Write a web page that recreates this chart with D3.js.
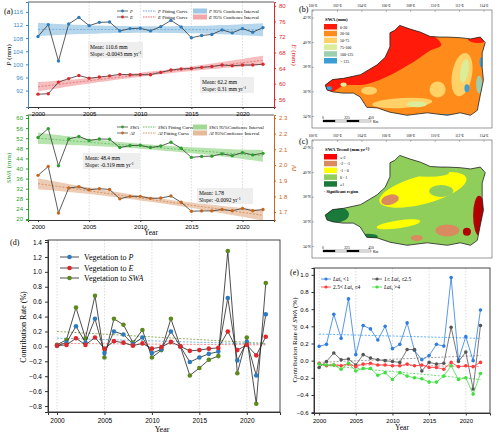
<!DOCTYPE html>
<html><head><meta charset="utf-8">
<script src="https://cdn.jsdelivr.net/npm/d3@7"></script>
<style>body{margin:0;background:#fff}svg{font-family:"Liberation Serif","DejaVu Serif",serif}</style>
</head><body><svg id="c" width="500" height="438"></svg>
<script>
const years=d3.range(2000,2023);
const P=[108.5,112.1,101,112.3,114.3,111.8,112.8,112.9,110.2,110.9,111,110.2,111.5,113.4,111.4,108.1,108.8,109.1,110.5,109.6,110.9,109.8,111.2];
const E=[57.3,57.4,60.4,61.3,62.1,61.4,61.7,62,62.4,62.3,62.3,62.3,62.9,63.5,63.8,63.9,64.2,64.4,64.8,64.6,64.8,64.8,65];
const SWA=[52.3,55.8,41.1,51.7,52.7,51.1,51.7,51.6,48.3,49.1,49.2,48.3,48.9,50.4,48,44.4,44.8,44.9,45.8,45.1,46.3,45.4,46];
const AI=[1.934,1.990,1.694,1.853,1.861,1.842,1.849,1.844,1.784,1.800,1.800,1.787,1.789,1.802,1.762,1.705,1.707,1.707,1.716,1.708,1.723,1.708,1.716];
const P_fit=[110.65,110.55], P_band=[2.0,1.0];
const E_fit=[59.2,66.0], E_band=[1.2,0.5];
const SWA_fit=[52.0,45.0], SWA_band=[2.3,1.0];
const AI_fit=[1.881,1.679], AI_band=[0.035,0.015];
const vegP=[0.01,0.05,0.27,0.05,0.37,-0.09,0.2,0.16,0.03,0.12,-0.09,-0.04,0.2,0,-0.21,-0.15,-0.1,-0.07,0.65,-0.19,0.06,-0.39,0.43];
const vegE=[0.01,0.02,0.11,0.02,0.12,-0.03,0.07,0.05,0.01,0.04,-0.03,-0.01,0.06,0,-0.06,-0.05,-0.03,-0.02,0.2,-0.05,0.02,-0.12,0.13];
const vegS=[0.02,0.09,0.52,0.11,0.68,-0.15,0.37,0.29,0.05,0.22,-0.15,-0.05,0.37,0,-0.39,-0.29,-0.18,-0.13,1.28,-0.36,0.12,-0.77,0.85];
const d_trend={P:[0.11,0.03],E:[0.04,0.02],S:[0.2,0.04]};
const lai1=[0.167,0.19,0.54,0.26,0.72,0.07,0.41,0.37,0.24,0.40,0.14,0.19,0.44,0.12,0.01,0.06,0.19,0.17,0.97,0.01,0.28,0.0,0.59];
const lai2=[-0.08,-0.01,0.09,0.01,0.02,-0.05,0.07,0.03,0.01,0.0,-0.01,-0.02,0.13,0.13,-0.12,-0.02,-0.04,-0.03,0.39,-0.01,0.10,-0.33,0.41];
const lai3=[-0.03,-0.06,-0.05,-0.06,-0.04,-0.07,-0.04,-0.03,-0.05,-0.05,-0.06,-0.06,-0.04,-0.06,-0.05,-0.08,-0.08,-0.1,-0.02,-0.07,-0.06,-0.07,-0.02];
const lai4=[-0.04,-0.05,-0.05,-0.1,-0.03,-0.12,-0.09,-0.09,-0.17,-0.14,-0.22,-0.14,-0.18,-0.2,-0.21,-0.25,-0.25,-0.18,-0.06,-0.22,-0.2,-0.39,-0.15];
const e_trend={a:[0.31,0.26],b:[-0.02,0.06],c:[-0.04,-0.07],d:[-0.05,-0.22]};
const outline=[[101.0,36.55],[101.6,37.0],[102.5,37.1],[103.9,37.4],[105.25,38.2],[105.9,38.8],[106.3,39.65],[106.3,40.8],[106.7,41.0],[107.1,41.4],[107.95,41.1],[108.8,40.85],[109.6,40.5],[110.4,40.45],[111.0,40.45],[112.05,40.4],[112.9,40.3],[113.7,40.45],[114.1,40.0],[113.85,39.15],[113.85,38.0],[113.95,36.95],[113.7,35.75],[113.45,34.5],[112.9,34.1],[112.05,34.3],[111.0,34.1],[109.35,34.3],[107.7,34.1],[106.3,34.35],[105.25,34.7],[104.4,34.75],[103.85,35.6],[103.3,35.9],[102.45,35.9],[101.65,36.0],[101.15,36.15]];
const swaCats=["0-20","20-50","50-75","75-100","100-125","> 125"];
const swaCols=["#ff1a0a","#ff8c1a","#ffd166","#d9ed9a","#9ccfb0","#3b9fd6"];
const trCats=["≤-2","-2 - -1","-1 - 0","0 - 1","≥1"];
const trCols=["#ff0000","#d98b5f","#ffff00","#8fce5a","#1a7a3a"];
const lonTicks=[100,102,104,106,108,110,112,114], latTicks=[42,40,38,36,34];

const svg=d3.select("#c");
function band(g,x,y,fit,bw,col){
  const n=years.length-1;
  const c=(i)=>fit[0]+(fit[1]-fit[0])*i/n;
  const w=(i)=>{const t=Math.abs(i/n-0.5)*2;return bw[1]+(bw[0]-bw[1])*t*t;};
  g.append("path").datum(years.map((v,i)=>i)).attr("fill",col).attr("opacity",0.75)
   .attr("d",d3.area().x(i=>x(years[i])).y0(i=>y(c(i)-w(i))).y1(i=>y(c(i)+w(i))).curve(d3.curveMonotoneX));
}
function fitLine(g,x,y,fit,col){
  g.append("line").attr("x1",x(2000)).attr("x2",x(2022)).attr("y1",y(fit[0])).attr("y2",y(fit[1]))
   .attr("stroke",col).attr("stroke-width",0.8).attr("stroke-dasharray","2,1.5");
}
function series(g,x,y,vals,col,r,lineCol){
  g.append("path").datum(vals).attr("fill","none").attr("stroke",lineCol||"#333").attr("stroke-width",0.8)
   .attr("d",d3.line().x((d,i)=>x(years[i])).y(d=>y(d)));
  g.selectAll(null).data(vals).enter().append("circle").attr("cx",(d,i)=>x(years[i])).attr("cy",d=>y(d)).attr("r",r).attr("fill",col);
}
function styleAxis(a,col,fs){a.selectAll("path,line").attr("stroke",col);a.selectAll("text").attr("fill",col==="#333"?"#000":col).style("font-size",fs+"px");a.select(".domain").attr("stroke-width",1);}
function vgrid(g,x,yr,yrs){g.selectAll(null).data(yrs).enter().append("line").attr("x1",d=>x(d)).attr("x2",d=>x(d)).attr("y1",yr[0]).attr("y2",yr[1]).attr("stroke","#bbb").attr("stroke-width",0.5).attr("stroke-dasharray","1.5,1.5");}
function txt(x,y,s,fs,opt={}){const t=svg.append("text").attr("x",x).attr("y",y).style("font-size",fs+"px").attr("fill",opt.fill||"#000");if(opt.anchor)t.attr("text-anchor",opt.anchor);if(opt.rot)t.attr("transform",`rotate(${opt.rot},${x},${y})`);t.html(s);return t;}

const xa=d3.scaleLinear().domain([1999.02,2023.08]).range([28,274]);
const yP=d3.scaleLinear().domain([87,119]).range([107,2]);
const yE=d3.scaleLinear().domain([54,81]).range([107,2]);
const yS=d3.scaleLinear().domain([19.6,61.2]).range([220,115]);
const yA=d3.scaleLinear().domain([1.649,2.319]).range([220,115]);
const ga=svg.append("g");
vgrid(ga,xa,[2,107],[2005,2010,2015,2020]);vgrid(ga,xa,[115,220],[2005,2010,2015,2020]);
band(ga,xa,yP,P_fit,P_band,"#9ec8e6");band(ga,xa,yE,E_fit,E_band,"#f3a6a8");
fitLine(ga,xa,yP,P_fit,"#6aaad8");fitLine(ga,xa,yE,E_fit,"#e07070");
series(ga,xa,yP,P,"#2b7bbf",1.7);series(ga,xa,yE,E,"#e0262a",1.7);
band(ga,xa,yS,SWA_fit,SWA_band,"#9fd994");band(ga,xa,yA,AI_fit,AI_band,"#e6bb9c");
fitLine(ga,xa,yS,SWA_fit,"#5cbf5c");fitLine(ga,xa,yA,AI_fit,"#d08850");
series(ga,xa,yS,SWA,"#2ca02c",1.7);series(ga,xa,yA,AI,"#c8661c",1.7);
[[107,2],[220,115]].forEach(r=>{ga.append("line").attr("x1",28).attr("x2",274).attr("y1",r[1]).attr("y2",r[1]).attr("stroke","#333").attr("stroke-width",0.8);});
const xt=[2000,2005,2010,2015,2020];
let a;
a=ga.append("g").attr("transform","translate(0,107)").call(d3.axisBottom(xa).tickValues(xt).tickFormat(d3.format("d")).tickSize(2));styleAxis(a,"#333",6);
a=ga.append("g").attr("transform","translate(0,220)").call(d3.axisBottom(xa).tickValues(xt).tickFormat(d3.format("d")).tickSize(2));styleAxis(a,"#333",6);
a=ga.append("g").attr("transform","translate(28,0)").call(d3.axisLeft(yP).tickValues([92,96,100,104,108,112,116]).tickSize(2));styleAxis(a,"#3b8ccc",6);
a=ga.append("g").attr("transform","translate(274,0)").call(d3.axisRight(yE).tickValues([56,60,64,68,72,76,80]).tickSize(2));styleAxis(a,"#e0262a",6);
a=ga.append("g").attr("transform","translate(28,0)").call(d3.axisLeft(yS).tickValues([20,24,28,32,36,40,44,48,52,56,60]).tickSize(2));styleAxis(a,"#2ca02c",6);
a=ga.append("g").attr("transform","translate(274,0)").call(d3.axisRight(yA).tickValues([1.7,1.8,1.9,2.0,2.1,2.2,2.3]).tickFormat(d3.format(".1f")).tickSize(2));styleAxis(a,"#c8661c",6);
txt(4,14,"(a)",8);
txt(11,55,"<tspan font-style='italic'>P</tspan> (mm)",7,{rot:-90,anchor:"middle"});
txt(292,55,"<tspan font-style='italic'>E</tspan> (mm)",7,{rot:90,anchor:"middle",fill:"#e0262a"});
txt(11,168,"<tspan font-style='italic'>SWA</tspan> (mm)",7,{rot:-90,anchor:"middle",fill:"#2ca02c"});
txt(292,168,"<tspan font-style='italic'>AI</tspan>",7,{rot:90,anchor:"middle",fill:"#c8661c"});
txt(151,235,"Year",7.5,{anchor:"middle"});
function statBox(x,y,w,l1,l2){svg.append("rect").attr("x",x).attr("y",y).attr("width",w).attr("height",16).attr("fill","#ececec").attr("opacity",0.9);txt(x+2,y+6.5,l1,5.5);txt(x+2,y+13.5,l2,5.5);}
statBox(88,42,55,"Mean: 110.6  mm","Slope: -0.0043  mm yr<tspan dy='-2' font-size='4'>-1</tspan>");
statBox(200,77,54,"Mean: 62.2  mm","Slope: 0.31  mm yr<tspan dy='-2' font-size='4'>-1</tspan>");
statBox(83,153,57,"Mean: 48.4  mm","Slope: -0.319  mm yr<tspan dy='-2' font-size='4'>-1</tspan>");
statBox(197,188,56,"Mean: 1.78","Slope: -0.0092 yr<tspan dy='-2' font-size='4'>-1</tspan>");
function legA(y,name,col,bandCol,ci){
  svg.append("line").attr("x1",117).attr("x2",128).attr("y1",y).attr("y2",y).attr("stroke","#333").attr("stroke-width",0.7);
  svg.append("circle").attr("cx",122.5).attr("cy",y).attr("r",1.4).attr("fill",col);
  txt(130,y+1.8,`<tspan font-style='italic'>${name}</tspan>`,4.8);
  svg.append("line").attr("x1",143).attr("x2",156).attr("y1",y).attr("y2",y).attr("stroke",col).attr("stroke-dasharray","1.5,1").attr("stroke-width",0.7);
  txt(158,y+1.8,`<tspan font-style='italic'>${name}</tspan>  Fitting Curve`,4.8);
  svg.append("rect").attr("x",193).attr("y",y-2.5).attr("width",14).attr("height",5).attr("fill",bandCol);
  txt(209,y+1.8,`<tspan font-style='italic'>${name}</tspan>  ${ci}`,4.8);
}
legA(11,"P","#2b7bbf","#9ec8e6","95% Confience Interval");legA(17,"E","#e0262a","#f3a6a8","95% Confience Interval");
legA(127,"SWA","#2ca02c","#9fd994","95%Confience Interval");legA(133,"AI","#c8661c","#e6bb9c","95%Confience Interval");

function map(oy,title,cats,cols,drawFill){
  const lx=d3.scaleLinear().domain([100,114]).range([313,484]);
  const ly=d3.scaleLinear().domain([42,34]).range([18+oy,116.5+oy]);
  const g=svg.append("g");
  g.append("rect").attr("x",312).attr("y",10+oy).attr("width",180).attr("height",118).attr("fill","#fff").attr("stroke","#555").attr("stroke-width",0.6);
  lonTicks.forEach(l=>{txt(lx(l),7+oy,l+"°E",3.6,{anchor:"middle"});g.append("line").attr("x1",lx(l)).attr("x2",lx(l)).attr("y1",10+oy).attr("y2",12+oy).attr("stroke","#555").attr("stroke-width",0.4);});
  latTicks.forEach(l=>{txt(303,ly(l)+1,l+"°N",3.6);g.append("line").attr("x1",312).attr("x2",314).attr("y1",ly(l)).attr("y2",ly(l)).attr("stroke","#555").attr("stroke-width",0.4);});
  const id="clip"+oy;
  const pathD=d3.line().x(d=>lx(d[0])).y(d=>ly(d[1])).curve(d3.curveLinearClosed)(outline);
  g.append("clipPath").attr("id",id).append("path").attr("d",pathD);
  const cg=g.append("g").attr("clip-path",`url(#${id})`);
  drawFill(cg,lx,ly);
  g.append("path").attr("d",pathD).attr("fill","none").attr("stroke","#222").attr("stroke-width",0.8);
  txt(325,21+oy,title,4.8,{}).attr("font-weight","bold");
  cats.forEach((c,i)=>{g.append("rect").attr("x",324).attr("y",24+oy+i*6.8).attr("width",13).attr("height",5.5).attr("fill",cols[i]);txt(340,28.5+oy+i*6.8,c,4);});
  const sy=120+oy;
  [[323,335,"#000"],[335,347,"#fff"],[347,359,"#000"],[359,371,"#fff"]].forEach(s=>g.append("rect").attr("x",s[0]).attr("y",sy).attr("width",s[1]-s[0]).attr("height",2).attr("fill",s[2]).attr("stroke","#000").attr("stroke-width",0.3));
  txt(323,sy-1.5,"0",3.6,{anchor:"middle"});txt(347,sy-1.5,"225",3.6,{anchor:"middle"});txt(371,sy-1.5,"450",3.6,{anchor:"middle"});txt(373,sy+2.5,"Km",3.6);
}
function blob(g,lx,ly,lon,lat,rx,ry,col,rot=0){g.append("ellipse").attr("cx",lx(lon)).attr("cy",ly(lat)).attr("rx",rx).attr("ry",ry).attr("fill",col).attr("transform",`rotate(${rot},${lx(lon)},${ly(lat)})`);}
map(0,"SWA (mm)",swaCats,swaCols,(g,lx,ly)=>{
  g.append("rect").attr("x",300).attr("y",0).attr("width",200).attr("height",140).attr("fill",swaCols[1]);
  const red=[[100.5,36.3],[101.6,37.5],[103.9,37.8],[105.3,38.4],[106.2,39.8],[106.2,41],[107.1,41.6],[109.8,40.6],[110.5,39.8],[109.5,39.3],[108.5,38.6],[107.5,38.0],[106,37.2],[104.3,36.6],[102.5,36.5],[101.5,36.0]];
  g.append("path").attr("d",d3.line().x(d=>lx(d[0])).y(d=>ly(d[1])).curve(d3.curveCatmullRomClosed)(red)).attr("fill",swaCols[0]);
  blob(g,lx,ly,113.5,40.3,10,4,swaCols[0]);
  blob(g,lx,ly,107.3,35.1,30,5,swaCols[2],-3);blob(g,lx,ly,104.6,36.1,8,4,swaCols[2]);
  blob(g,lx,ly,112.2,37.4,10,22,swaCols[2],10);blob(g,lx,ly,110.2,36.2,8,8,swaCols[2]);
  blob(g,lx,ly,112.4,37.7,4,12,swaCols[3],10);blob(g,lx,ly,108.5,35.0,10,3,swaCols[3]);
  blob(g,lx,ly,113.6,36.6,3,9,swaCols[4]);blob(g,lx,ly,112.6,36.3,2.5,4,swaCols[5]);
  blob(g,lx,ly,110.5,34.0,30,2.5,swaCols[5]);blob(g,lx,ly,113.8,38.4,2,5,swaCols[5]);
  blob(g,lx,ly,101.3,36.3,3,2,swaCols[5]);blob(g,lx,ly,102.5,36.6,3,2,swaCols[3]);
});
map(130,"SWA Trend (mm yr<tspan dy='-1.5' font-size='3'>-1</tspan>)",trCats,trCols,(g,lx,ly)=>{
  g.append("rect").attr("x",300).attr("y",130).attr("width",200).attr("height",140).attr("fill",trCols[3]);
  blob(g,lx,ly,109,38.6,45,14,trCols[2],-15);
  blob(g,lx,ly,109.5,40,20,4,trCols[3]);blob(g,lx,ly,110.5,38.5,12,6,trCols[3]);
  blob(g,lx,ly,106.3,37.8,9,5,trCols[1],-15);blob(g,lx,ly,111,35.3,12,6,trCols[1]);
  blob(g,lx,ly,108.5,34.7,6,3,trCols[1]);blob(g,lx,ly,110.8,36.9,3,6,trCols[3]);
  blob(g,lx,ly,113.6,36.5,6,20,"#b30000");blob(g,lx,ly,112.6,35.2,4,4,"#b30000");
  blob(g,lx,ly,107,35.8,22,4,trCols[2],-8);
  blob(g,lx,ly,101.8,36.6,14,8,trCols[4]);blob(g,lx,ly,104.5,34.8,10,3,trCols[4]);
});
txt(324,193,"· Significant region",4.2).attr("font-weight","bold");
txt(299,12,"(b)",8);txt(299,144,"(c)",8);

const xd=d3.scaleLinear().domain([1999.05,2023.5]).range([48,280]);
const yd=d3.scaleLinear().domain([-0.88,1.427]).range([412,240]);
const gd=svg.append("g");
vgrid(gd,xd,[240,412],[2000,2005,2010,2015,2020]);
[[vegP,"#2b7bbf",d_trend.P,"#5aa3d8"],[vegE,"#e0262a",d_trend.E,"#ff6b6b"],[vegS,"#5d8a1e",d_trend.S,"#7a9a3a"]].forEach(s=>fitLine(gd,xd,yd,s[2],s[3]));
[[vegS,"#5d8a1e"],[vegP,"#2b7bbf"],[vegE,"#e0262a"]].forEach(s=>series(gd,xd,yd,s[0],s[1],2.3,"#222"));
gd.append("rect").attr("x",48).attr("y",240).attr("width",232).attr("height",172).attr("fill","none").attr("stroke","#333").attr("stroke-width",0.9);
a=gd.append("g").attr("transform","translate(0,412)").call(d3.axisBottom(xd).tickValues(xt).tickFormat(d3.format("d")).tickSize(3));styleAxis(a,"#333",6.5);
a=gd.append("g").attr("transform","translate(48,0)").call(d3.axisLeft(yd).tickValues(d3.range(-0.8,1.41,0.2)).tickFormat(d3.format(".1f")).tickSize(3));styleAxis(a,"#333",6.5);
a.selectAll("text").text(d=>d3.format(".1f")(d).replace("-","−"));
txt(10,245,"(d)",8);
txt(26,327,"Contribution Rate (%)",8,{rot:-90,anchor:"middle"});
txt(162,432,"Year",8,{anchor:"middle"});
[["Vegetation to <tspan font-style='italic'>P</tspan>","#2b7bbf",257],["Vegetation to <tspan font-style='italic'>E</tspan>","#e0262a",268],["Vegetation to <tspan font-style='italic'>SWA</tspan>","#5d8a1e",278]].forEach(l=>{
  svg.append("line").attr("x1",60).attr("x2",79).attr("y1",l[2]).attr("y2",l[2]).attr("stroke","#222").attr("stroke-width",0.8);
  svg.append("circle").attr("cx",69.5).attr("cy",l[2]).attr("r",2.3).attr("fill",l[1]);
  txt(84,l[2]+3,l[0],8);
});

const xe=d3.scaleLinear().domain([1999.3,2023.3]).range([314,490]);
const ye=d3.scaleLinear().domain([-0.61,1.08]).range([413,268]);
const ge=svg.append("g");
vgrid(ge,xe,[268,413],[2000,2005,2010,2015,2020]);
const eS=[[lai1,"#2f7de0",e_trend.a,"#3aa0f0"],[lai2,"#555",e_trend.b,"#888"],[lai3,"#ff3b3b",e_trend.c,"#ff6060"],[lai4,"#3ee03e",e_trend.d,"#50d050"]];
eS.forEach(s=>fitLine(ge,xe,ye,s[2],s[3]));
eS.forEach(s=>series(ge,xe,ye,s[0],s[1],1.8,s[1]));
ge.append("rect").attr("x",314).attr("y",268).attr("width",176).attr("height",145).attr("fill","none").attr("stroke","#333").attr("stroke-width",0.9);
a=ge.append("g").attr("transform","translate(0,413)").call(d3.axisBottom(xe).tickValues(xt).tickFormat(d3.format("d")).tickSize(2.5));styleAxis(a,"#333",6);
a=ge.append("g").attr("transform","translate(314,0)").call(d3.axisLeft(ye).tickValues(d3.range(-0.6,1.01,0.2)).tickFormat(d3.format(".1f")).tickSize(2.5));styleAxis(a,"#333",6);
a.selectAll("text").text(d=>d3.format(".1f")(d).replace("-","−"));
txt(290,275,"(e)",8);
txt(297,340,"Contribution Rate of <tspan font-style='italic'>SWA</tspan> (%)",7,{rot:-90,anchor:"middle"});
txt(402,430,"Year",7.5,{anchor:"middle"});
[[321,279,"#2f7de0","<tspan font-style='italic'>Lai</tspan><tspan font-size='3.5' dy='1'>s</tspan><tspan dy='-1'> &lt;1</tspan>"],
 [372,279,"#555","1≤ <tspan font-style='italic'>Lai</tspan><tspan font-size='3.5' dy='1'>s</tspan><tspan dy='-1'> ≤2.5</tspan>"],
 [321,287,"#ff3b3b","2.5&lt; <tspan font-style='italic'>Lai</tspan><tspan font-size='3.5' dy='1'>s</tspan><tspan dy='-1'> ≤4</tspan>"],
 [372,287,"#3ee03e","<tspan font-style='italic'>Lai</tspan><tspan font-size='3.5' dy='1'>s</tspan><tspan dy='-1'> &gt;4</tspan>"]].forEach(l=>{
  svg.append("line").attr("x1",l[0]).attr("x2",l[0]+10).attr("y1",l[1]).attr("y2",l[1]).attr("stroke",l[2]).attr("stroke-width",0.8);
  svg.append("circle").attr("cx",l[0]+5).attr("cy",l[1]).attr("r",1.6).attr("fill",l[2]);
  txt(l[0]+12,l[1]+2,l[3],5.5);
});
</script></body></html>
